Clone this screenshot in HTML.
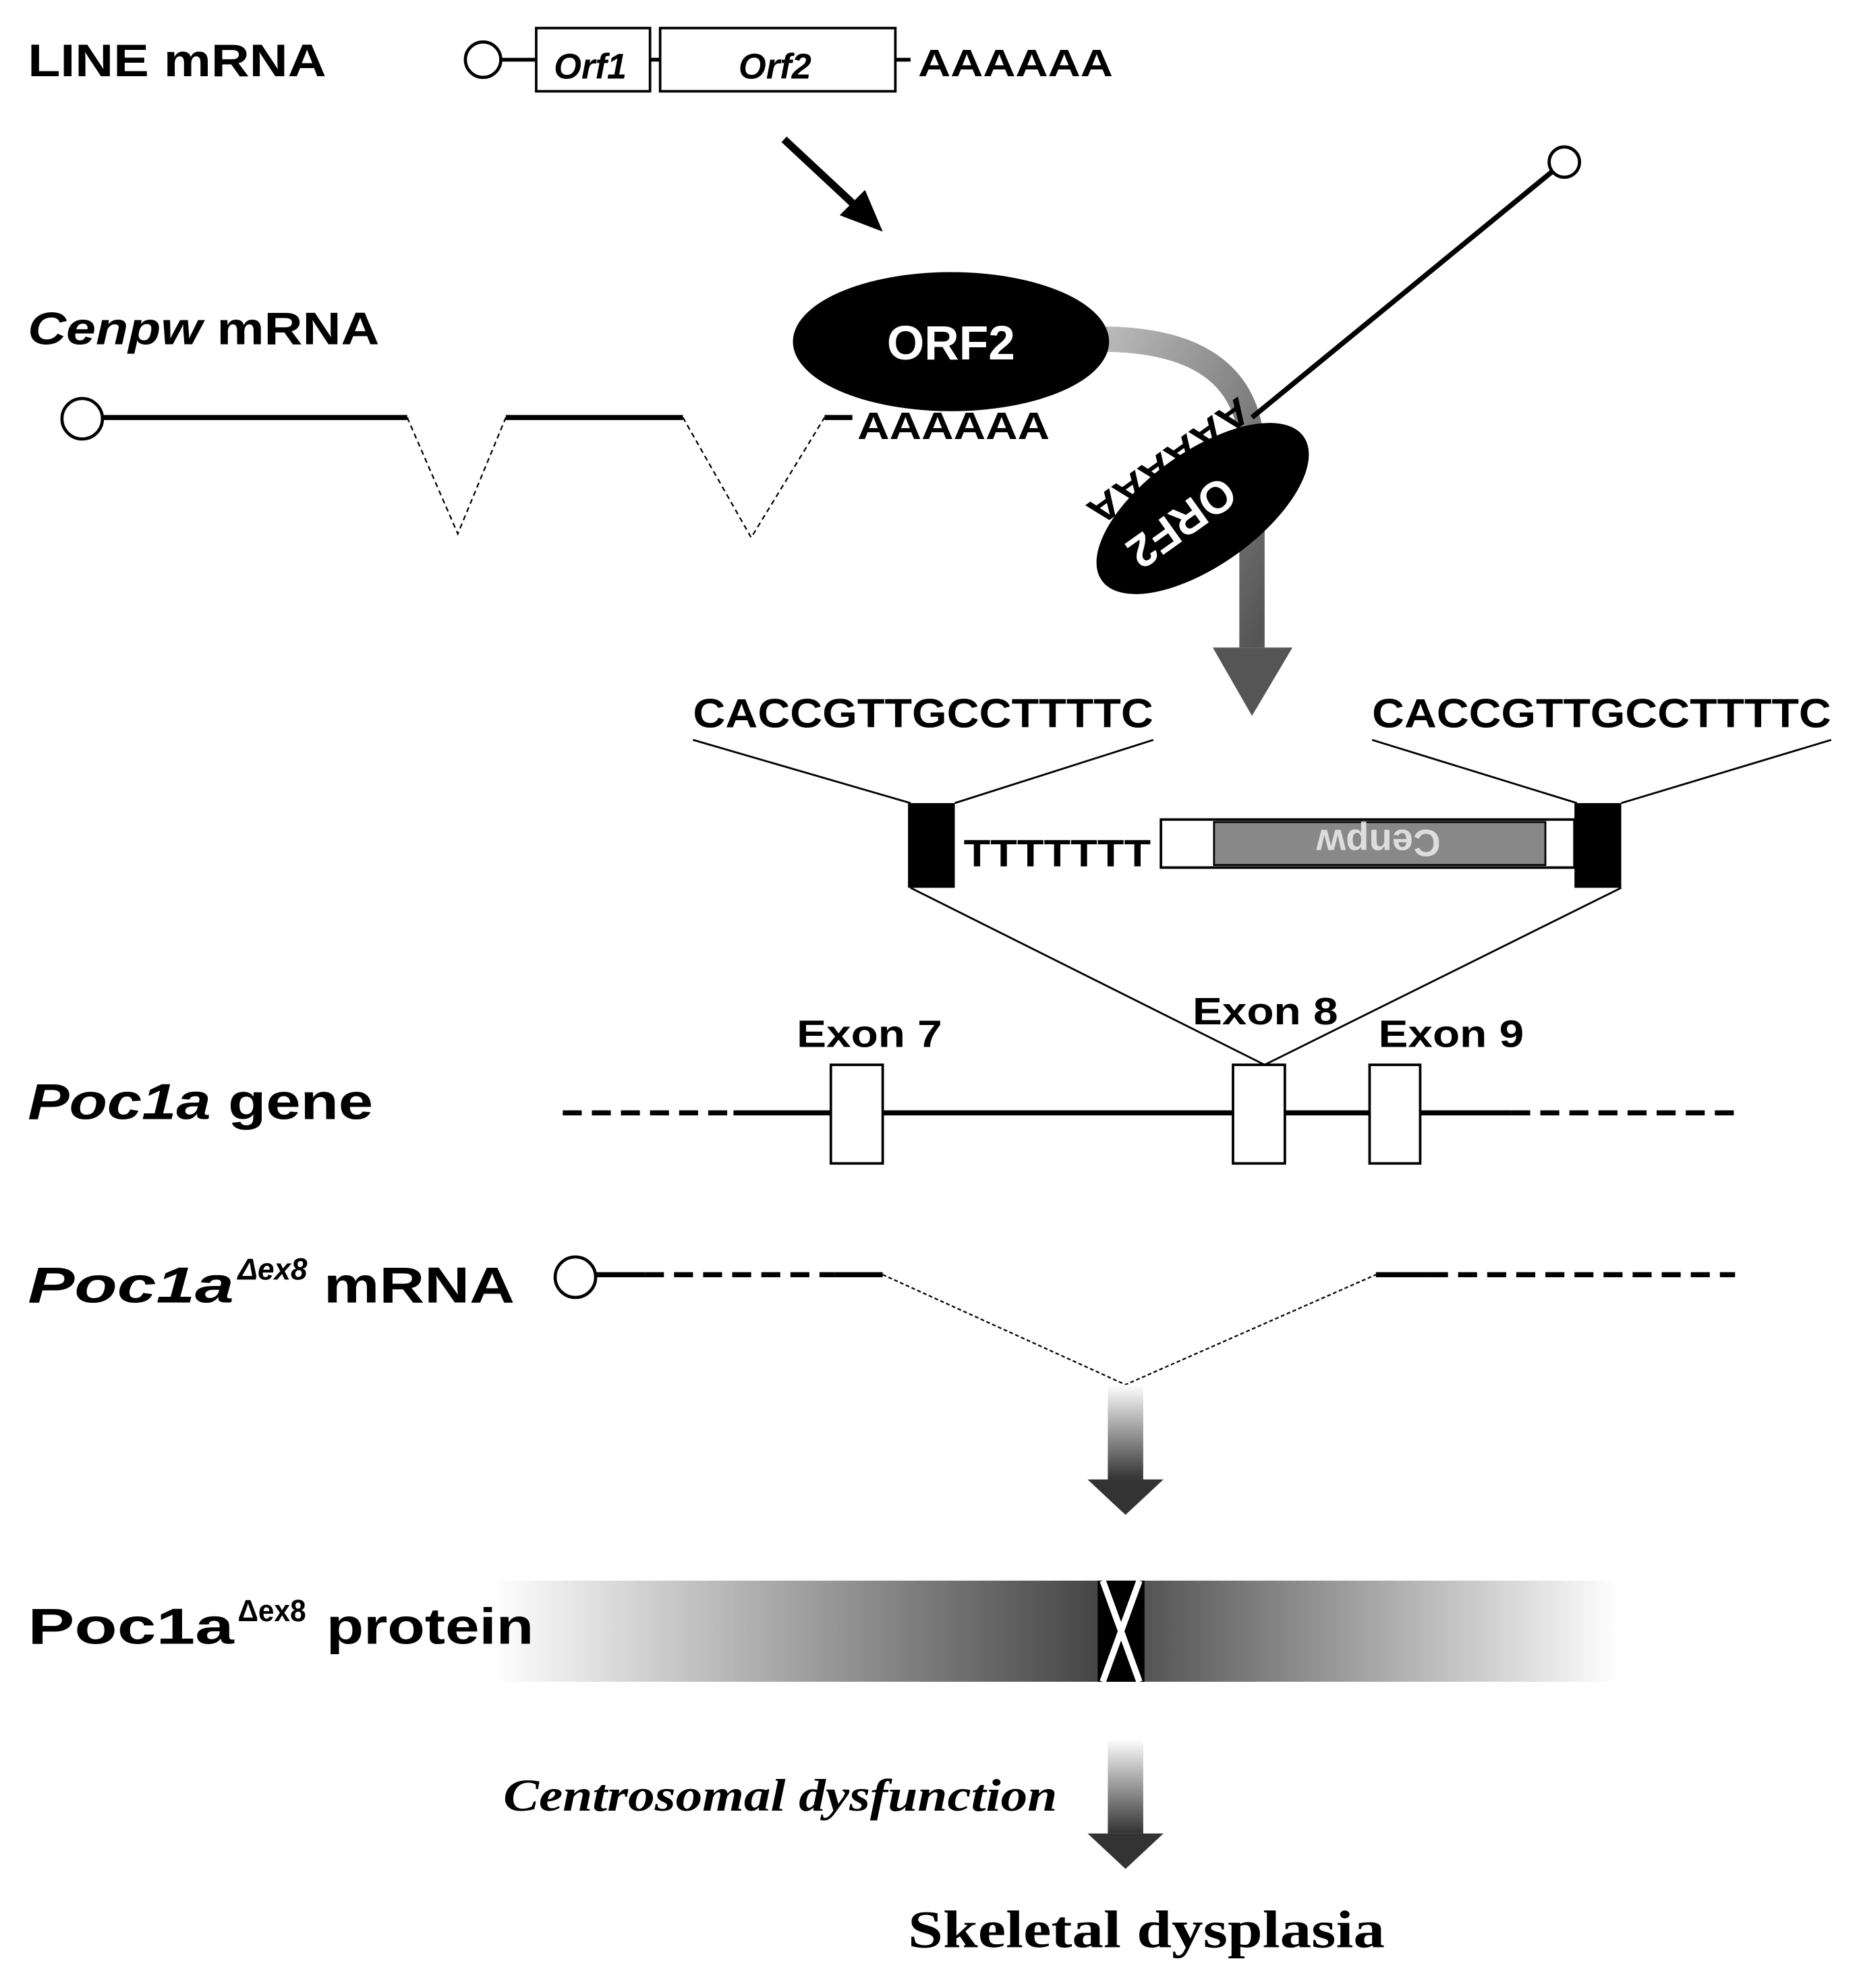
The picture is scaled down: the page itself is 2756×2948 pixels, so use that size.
<!DOCTYPE html>
<html><head><meta charset="utf-8"><style>
html,body{margin:0;padding:0;background:#fff}
svg{display:block}
text{font-family:"Liberation Sans",sans-serif;font-weight:bold}
</style></head><body>
<svg width="2756" height="2948" viewBox="0 0 1470 1572" xmlns="http://www.w3.org/2000/svg">
<defs>
<linearGradient id="g1" x1="0" y1="0" x2="1" y2="1"><stop offset="0" stop-color="#bbb"/><stop offset="1" stop-color="#555"/></linearGradient>
<linearGradient id="gv" x1="0" y1="0" x2="0" y2="1"><stop offset="0" stop-color="#fff"/><stop offset="1" stop-color="#333"/></linearGradient>
<linearGradient id="gp" x1="390" y1="0" x2="1280" y2="0" gradientUnits="userSpaceOnUse"><stop offset="0" stop-color="#fff"/><stop offset="0.54" stop-color="#444"/><stop offset="0.58" stop-color="#555"/><stop offset="1" stop-color="#fff"/></linearGradient>
</defs>
<rect width="1470" height="1572" fill="#fff"/>
<text x="22" y="60" font-size="36" textLength="236" lengthAdjust="spacingAndGlyphs">LINE mRNA</text>
<circle cx="382" cy="47" r="14" fill="#fff" stroke="#000" stroke-width="2.5"/>
<line x1="396" y1="47" x2="424" y2="47" stroke="#000" stroke-width="3"/>
<rect x="424" y="22" width="90" height="50" fill="#fff" stroke="#000" stroke-width="2"/>
<line x1="514" y1="47" x2="522" y2="47" stroke="#000" stroke-width="3"/>
<rect x="522" y="22" width="186" height="50" fill="#fff" stroke="#000" stroke-width="2"/>
<line x1="708" y1="47" x2="720" y2="47" stroke="#000" stroke-width="3"/>
<text x="438" y="62" font-size="28" font-style="italic">Orf1</text>
<text x="584" y="62" font-size="28" font-style="italic">Orf2</text>
<text x="726" y="60" font-size="30" textLength="154" lengthAdjust="spacingAndGlyphs">AAAAAA</text>
<line x1="620" y1="110" x2="680" y2="166" stroke="#000" stroke-width="6"/>
<polygon points="698,183 664,170 684,150" fill="#000"/>
<text x="22" y="272" font-size="36" textLength="278" lengthAdjust="spacingAndGlyphs"><tspan font-style="italic">Cenpw</tspan> mRNA</text>
<circle cx="65" cy="331" r="16" fill="#fff" stroke="#000" stroke-width="2.5"/>
<path d="M81 330 H322 M400 330 H540 M652 330 H674" stroke="#000" stroke-width="4" fill="none"/>
<path d="M322 330 L362 422 L400 330 M540 330 L594 425 L652 330" stroke="#000" stroke-width="1.2" stroke-dasharray="4,3" fill="none"/>
<text x="678" y="347" font-size="30" textLength="152" lengthAdjust="spacingAndGlyphs">AAAAAA</text>
<path d="M870 268 Q990 268 990 360 V512" stroke="url(#g1)" stroke-width="20" fill="none"/>
<polygon points="959,512 1022,512 990,566" fill="#555"/>
<line x1="990" y1="330" x2="1228" y2="135" stroke="#000" stroke-width="4"/>
<circle cx="1237" cy="128" r="12" fill="#fff" stroke="#000" stroke-width="2.5"/>
<ellipse cx="752" cy="270" rx="125" ry="55" fill="#000"/>
<text x="752" y="284" font-size="38" fill="#fff" text-anchor="middle">ORF2</text>
<g transform="translate(951,402) rotate(-35.5)">
<ellipse cx="0" cy="0" rx="98" ry="45" fill="#000"/>
<g transform="rotate(180)"><text x="20" y="13" font-size="36" fill="#fff" text-anchor="middle">ORF2</text>
<text x="0" y="56" font-size="30" fill="#000" text-anchor="middle" textLength="150" lengthAdjust="spacingAndGlyphs">AAAAAA</text></g>
</g>
<text x="548" y="575" font-size="32" textLength="364" lengthAdjust="spacingAndGlyphs">CACCGTTGCCTTTTC</text>
<text x="1085" y="575" font-size="32" textLength="363" lengthAdjust="spacingAndGlyphs">CACCGTTGCCTTTTC</text>
<path d="M548 585 L720 635 M912 585 L755 635 M1085 585 L1247 635 M1448 585 L1282 635" stroke="#000" stroke-width="1.5" fill="none"/>
<rect x="718" y="635" width="37" height="67" fill="#000"/>
<rect x="1245" y="635" width="37" height="67" fill="#000"/>
<text x="762" y="685" font-size="30" textLength="148" lengthAdjust="spacingAndGlyphs">TTTTTTT</text>
<rect x="918" y="648" width="327" height="38" fill="#fff" stroke="#000" stroke-width="2"/>
<rect x="960" y="650" width="262" height="34" fill="#888" stroke="#000" stroke-width="1.5"/>
<text transform="translate(1090,667) rotate(180)" x="0" y="11" font-size="30" fill="#ddd" text-anchor="middle">Cenpw</text>
<path d="M720 702 L1000 842 L1282 702" stroke="#000" stroke-width="1.5" fill="none"/>
<text x="630" y="828" font-size="30" textLength="115" lengthAdjust="spacingAndGlyphs">Exon 7</text>
<text x="943" y="810" font-size="30" textLength="115" lengthAdjust="spacingAndGlyphs">Exon 8</text>
<text x="1090" y="828" font-size="30" textLength="115" lengthAdjust="spacingAndGlyphs">Exon 9</text>
<text x="22" y="885" font-size="40" textLength="273" lengthAdjust="spacingAndGlyphs"><tspan font-style="italic">Poc1a</tspan> gene</text>
<path d="M445 880 H580 M1195 880 H1372" stroke="#000" stroke-width="4" stroke-dasharray="15,8" fill="none"/>
<line x1="580" y1="880" x2="1195" y2="880" stroke="#000" stroke-width="4"/>
<rect x="657" y="842" width="41" height="78" fill="#fff" stroke="#000" stroke-width="2"/>
<rect x="975" y="842" width="41" height="78" fill="#fff" stroke="#000" stroke-width="2"/>
<rect x="1083" y="842" width="40" height="78" fill="#fff" stroke="#000" stroke-width="2"/>
<text x="22" y="1030" font-size="40" font-style="italic" textLength="163" lengthAdjust="spacingAndGlyphs">Poc1a</text>
<text x="188" y="1012" font-size="24" font-style="italic" textLength="55" lengthAdjust="spacingAndGlyphs">Δex8</text>
<text x="256" y="1030" font-size="40" textLength="151" lengthAdjust="spacingAndGlyphs">mRNA</text>
<circle cx="455" cy="1010" r="16" fill="#fff" stroke="#000" stroke-width="2.5"/>
<path d="M471 1008 H510 M660 1008 H698 M1088 1008 H1130" stroke="#000" stroke-width="4" fill="none"/>
<path d="M510 1008 H660 M1130 1008 H1372" stroke="#000" stroke-width="4" stroke-dasharray="15,8" fill="none"/>
<path d="M698 1008 L890 1095 L1088 1008" stroke="#000" stroke-width="1.2" stroke-dasharray="3,2" fill="none"/>
<rect x="876" y="1095" width="28" height="75" fill="url(#gv)"/>
<polygon points="860,1170 920,1170 890,1198" fill="#333"/>
<rect x="390" y="1250" width="890" height="80" fill="url(#gp)"/>
<rect x="868" y="1250" width="37" height="80" fill="#000"/>
<path d="M872 1250 L901 1330 M901 1250 L872 1330" stroke="#fff" stroke-width="5"/>
<text x="22" y="1300" font-size="40" textLength="163" lengthAdjust="spacingAndGlyphs">Poc1a</text>
<text x="188" y="1282" font-size="24" textLength="54" lengthAdjust="spacingAndGlyphs">Δex8</text>
<text x="258" y="1300" font-size="40" textLength="164" lengthAdjust="spacingAndGlyphs">protein</text>
<rect x="876" y="1375" width="28" height="75" fill="url(#gv)"/>
<polygon points="860,1450 920,1450 890,1478" fill="#333"/>
<text x="398" y="1432" font-size="36" font-style="italic" style="font-family:'Liberation Serif',serif" textLength="438" lengthAdjust="spacingAndGlyphs">Centrosomal dysfunction</text>
<text x="718" y="1540" font-size="42" style="font-family:'Liberation Serif',serif" textLength="377" lengthAdjust="spacingAndGlyphs">Skeletal dysplasia</text>
</svg>
</body></html>
